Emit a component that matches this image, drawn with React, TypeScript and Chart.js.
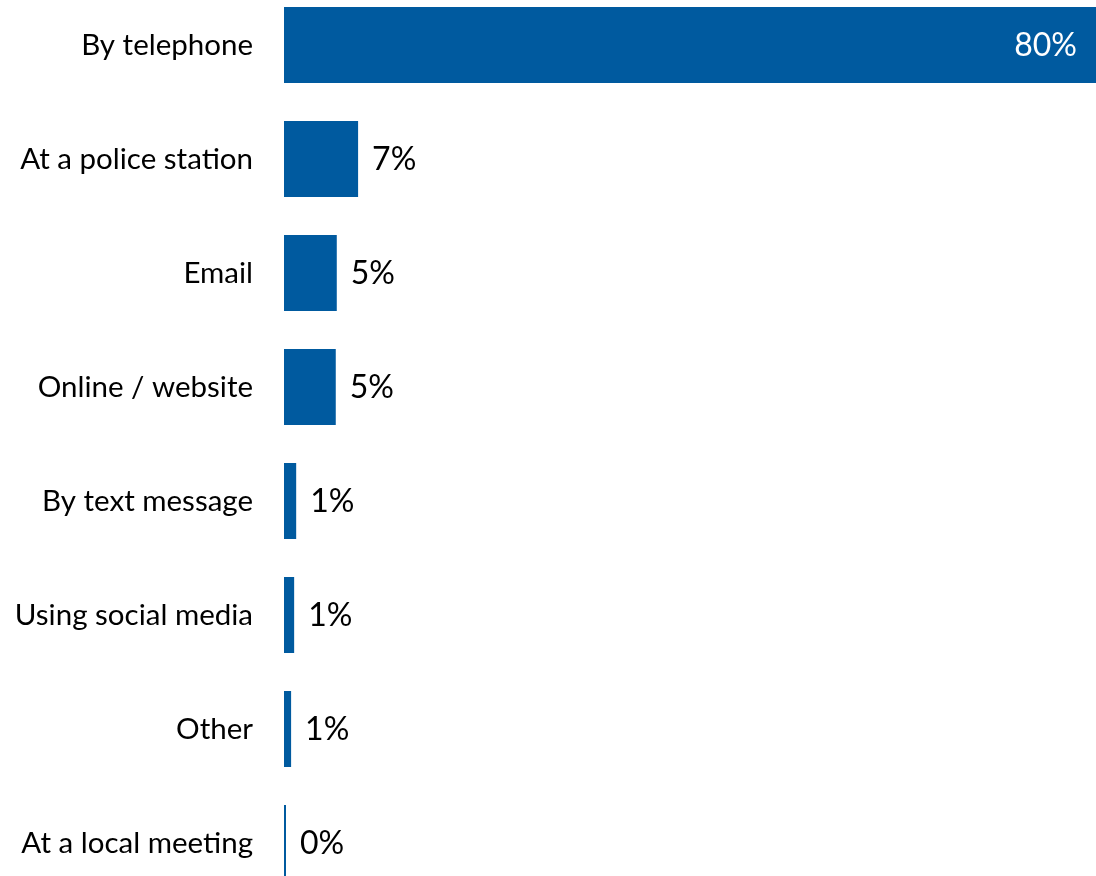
import React, { useEffect, useRef } from "react";
import { Chart, registerables } from "chart.js";

Chart.register(...registerables);

const categories = [
  "By telephone",
  "At a police station",
  "Email",
  "Online / website",
  "By text message",
  "Using social media",
  "Other",
  "At a local meeting",
];
const values = [80, 7.3, 5.2, 5.1, 1.2, 1.0, 0.7, 0.2];
const valueLabels = ["80%", "7%", "5%", "5%", "1%", "1%", "1%", "0%"];

const BAR_COLOR = "#005A9F";
const FONT = "Lato, 'Open Sans', sans-serif";

const valueLabelPlugin = {
  id: "valueLabels",
  afterDatasetsDraw(chart: any) {
    const ctx = chart.ctx;
    const meta = chart.getDatasetMeta(0);
    ctx.save();
    ctx.font = `32px ${FONT}`;
    ctx.textBaseline = "middle";
    meta.data.forEach((bar: any, i: number) => {
      const text = valueLabels[i];
      if (i === 0) {
        ctx.fillStyle = "#ffffff";
        ctx.textAlign = "right";
        ctx.fillText(text, bar.x - 19, bar.y + 1);
      } else {
        ctx.fillStyle = "#000000";
        ctx.textAlign = "left";
        ctx.fillText(text, bar.x + 14, bar.y + 1);
      }
    });
    ctx.restore();
  },
};

export default function App() {
  const ref = useRef<HTMLCanvasElement | null>(null);

  useEffect(() => {
    if (!ref.current) return;
    const chart = new Chart(ref.current, {
      type: "bar",
      data: {
        labels: categories,
        datasets: [
          {
            data: values,
            backgroundColor: BAR_COLOR,
            borderWidth: 0,
            categoryPercentage: 1,
            barPercentage: 0.667,
          },
        ],
      },
      options: {
        indexAxis: "y",
        animation: false,
        responsive: false,
        maintainAspectRatio: false,
        layout: { padding: 0 },
        plugins: {
          legend: { display: false },
          tooltip: { enabled: false },
        },
        scales: {
          x: {
            display: false,
            min: 0,
            max: 80,
          },
          y: {
            grid: { display: false, drawTicks: false },
            border: { display: false },
            ticks: {
              color: "#000000",
              font: { family: FONT, size: 29.5 },
              padding: 31,
              autoSkip: false,
            },
            afterFit(scale: any) {
              scale.width = 284;
              scale.paddingTop = 0;
              scale.paddingBottom = 0;
            },
          },
        },
      },
      plugins: [valueLabelPlugin],
    });
    return () => chart.destroy();
  }, []);

  return (
    <div
      style={{
        position: "fixed",
        left: 0,
        top: -12,
        width: 1096,
        height: 912,
        overflow: "hidden",
        background: "#ffffff",
      }}
    >
      <canvas ref={ref} width={1096} height={912} style={{ display: "block" }} />
    </div>
  );
}
